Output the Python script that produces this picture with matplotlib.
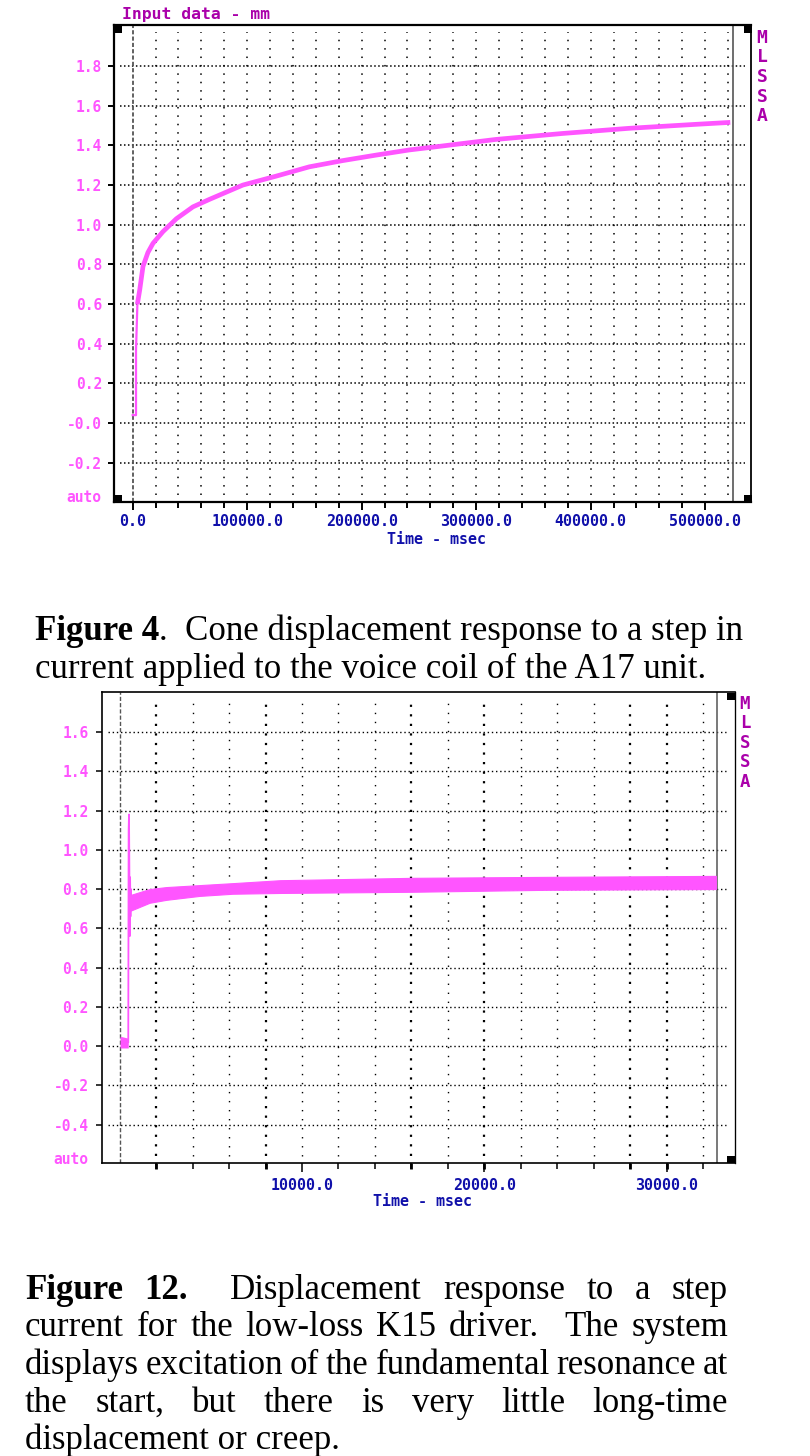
import matplotlib
matplotlib.use("Agg")
import matplotlib.pyplot as plt
from matplotlib.patches import Rectangle
from matplotlib.lines import TICKDOWN
import matplotlib.transforms as mtransforms

W, H = 810, 1456

PINK = "#ff55ff"
PURPLE = "#aa00aa"
BLUE = "#1010aa"
GRAY = "#555555"
MONO = "DejaVu Sans Mono"
SERIF = "Liberation Serif"

#### DATA ####
# Figure 4, A17 unit (time in msec, displacement in mm)
a17_step_time = [0, 2900, 2900, 4100]
a17_step_disp = [0.04, 0.04, 0.37, 0.60]
a17_time = [4100, 6100, 9000, 13300, 17700, 26400, 38100, 52600, 67100, 96200,
            125300, 154300, 183100, 212500, 241500, 264800, 317100, 375200,
            433300, 491400, 521900]
a17_disp = [0.60, 0.67, 0.79, 0.86, 0.906, 0.965, 1.03, 1.09, 1.128, 1.20,
            1.245, 1.292, 1.323, 1.351, 1.377, 1.393, 1.43, 1.46,
            1.486, 1.506, 1.516]
a17_xticks = [0, 100000, 200000, 300000, 400000, 500000]
a17_xlabels = ["0.0", "100000.0", "200000.0", "300000.0", "400000.0", "500000.0"]
a17_yticks = [-0.2, 0.0, 0.2, 0.4, 0.6, 0.8, 1.0, 1.2, 1.4, 1.6, 1.8]
a17_ylabels = ["-0.2", "-0.0", "0.2", "0.4", "0.6", "0.8", "1.0", "1.2",
               "1.4", "1.6", "1.8"]

# Figure 12, K15 driver
k15_pre_time = [20, 470]
k15_pre_low = [-0.01, -0.01]
k15_pre_high = [0.05, 0.04]
k15_ring_time = [470, 490, 510, 530, 550, 570, 590, 610, 640]
k15_ring_disp = [0.02, 1.10, 1.18, 0.90, 0.56, 0.86, 0.66, 0.80, 0.70]
k15_time = [600, 1640, 2560, 4380, 6200, 8800, 16000, 23400, 32700]
k15_low = [0.69, 0.73, 0.745, 0.765, 0.776, 0.78, 0.786, 0.796, 0.80]
k15_high = [0.77, 0.80, 0.81, 0.82, 0.83, 0.845, 0.857, 0.862, 0.867]
k15_xticks = [10000, 20000, 30000]
k15_xlabels = ["10000.0", "20000.0", "30000.0"]
k15_yticks = [-0.4, -0.2, 0.0, 0.2, 0.4, 0.6, 0.8, 1.0, 1.2, 1.4, 1.6]
k15_ylabels = ["-0.4", "-0.2", "0.0", "0.2", "0.4", "0.6", "0.8", "1.0",
               "1.2", "1.4", "1.6"]
k15_heavy = [2000, 8000, 16000, 20000, 28000, 30000]

caption4 = ["Figure 4", ".  Cone displacement response to a step in",
            "current applied to the voice coil of the A17 unit."]
# words: (text, bold, gap weight before the next word)
caption12 = [
    [("Figure", 1, 1), ("12.", 1, 2), ("Displacement", 0, 1), ("response", 0, 1),
     ("to", 0, 1), ("a", 0, 1), ("step", 0, 0)],
    [("current", 0, 1), ("for", 0, 1), ("the", 0, 1), ("low-loss", 0, 1),
     ("K15", 0, 1), ("driver.", 0, 2), ("The", 0, 1), ("system", 0, 0)],
    [("displays", 0, 1), ("excitation", 0, 1), ("of", 0, 1), ("the", 0, 1),
     ("fundamental", 0, 1), ("resonance", 0, 1), ("at", 0, 0)],
    [("the", 0, 1), ("start,", 0, 1), ("but", 0, 1), ("there", 0, 1), ("is", 0, 1),
     ("very", 0, 1), ("little", 0, 1), ("long-time", 0, 0)],
]
caption12_last = "displacement or creep."


def fx(x):
    return x / W


def fy(y):
    return 1 - y / H


def square(fig, x, y, w=8, h=7):
    fig.add_artist(Rectangle((fx(x), fy(y + h)), w / W, h / H,
                             transform=fig.transFigure, color="black", lw=0))


def mlssa_axes(fig, left, top, right, bottom, xlim, ylim, lw):
    ax = fig.add_axes([fx(left), fy(bottom), (right - left) / W, (bottom - top) / H])
    ax.set_xlim(xlim)
    ax.set_ylim(ylim)
    for s in ax.spines.values():
        s.set_linewidth(lw)
        s.set_color("black")
    ax.spines["right"].set_linewidth(lw * 0.8)
    return ax


def style_ticks(ax, xt, xl, yt, yl, ypad, xpad, tw, major_len, minor_len):
    ax.set_yticks(yt)
    ax.set_yticklabels(yl, family=MONO, weight="bold", fontsize=10.5, color=PINK)
    ax.set_xticks(xt)
    ax.set_xticklabels(xl, family=MONO, weight="bold", fontsize=10.8, color=BLUE)
    ax.tick_params(axis="y", direction="out", length=4.3, width=tw, pad=ypad)
    ax.tick_params(axis="x", which="major", direction="out", length=major_len,
                   width=tw, pad=xpad)
    ax.tick_params(axis="x", which="minor", direction="out", length=minor_len,
                   width=tw)


fig = plt.figure(figsize=(W / 100, H / 100), dpi=100, facecolor="white")

#### FIGURE 4 CHART ####
ax1 = mlssa_axes(fig, 114, 25, 751, 502, (-16330, 540000), (-0.398, 2.007), 1.6)
style_ticks(ax1, a17_xticks, a17_xlabels, a17_yticks, a17_ylabels, 4.3, 2.5,
            1.4, 6, 4)
ax1.set_xticks(list(range(0, 520000, 20000)), minor=True)
for yv in a17_yticks:
    ax1.axhline(yv, xmin=0.01, xmax=0.99, color="black", lw=1.1,
                ls=(0, (1, 1.6)), zorder=1)
for t in range(20000, 540000, 20000):
    ax1.axvline(t, ymin=0.015, ymax=0.985, color="black", lw=1.1,
                ls=(0, (1, 4.5)), zorder=1)
ax1.axvline(0, color=GRAY, lw=1.3, ls=(0, (2.3, 1.2)), zorder=2)
ax1.axvline(524300, color=GRAY, lw=1.2, zorder=2)
ax1.plot(a17_step_time, a17_step_disp, color=PINK, lw=1.6, zorder=3)
ax1.plot(a17_time, a17_disp, color=PINK, lw=3.4, zorder=3,
         solid_capstyle="butt")

fig.text(fx(122), fy(15), "Input data - mm", family=MONO, weight="bold",
         fontsize=11.8, color=PURPLE, ha="left", va="center")
fig.text(fx(101), fy(497), "auto", family=MONO, weight="bold", fontsize=10.5,
         color=PINK, ha="right", va="center")
fig.text(fx(436), fy(540), "Time - msec", family=MONO, weight="bold",
         fontsize=10.8, color=BLUE, ha="center", va="center")
for i, ch in enumerate("MLSSA"):
    fig.text(fx(762), fy(38 + 19.5 * i), ch, family=MONO, weight="bold",
             fontsize=13, color=PURPLE, ha="center", va="center")
square(fig, 114, 26)
square(fig, 114, 495)
square(fig, 744, 26)
square(fig, 744, 495)

#### FIGURE 12 CHART ####
ax2 = mlssa_axes(fig, 102, 692, 735, 1163, (-971, 33750), (-0.596, 1.804), 1.2)
style_ticks(ax2, k15_xticks, k15_xlabels, k15_yticks, k15_ylabels, 5.3, 4,
            1.1, 6.5, 4.3)
ax2.set_xticks(list(range(2000, 33000, 2000)), minor=True)
blend = mtransforms.blended_transform_factory(ax2.transData, ax2.transAxes)
ax2.plot(k15_heavy, [0] * len(k15_heavy), ls="none", marker=TICKDOWN,
         markersize=4.3, mew=2.0, color="black", transform=blend, clip_on=False)
for yv in k15_yticks:
    ax2.axhline(yv, xmin=0.01, xmax=0.985, color="black", lw=1.0,
                ls=(0, (1, 2)), zorder=1)
for t in range(2000, 34000, 2000):
    heavy = t in k15_heavy
    ax2.axvline(t, ymin=0.015, ymax=0.985, color="black",
                lw=1.6 if heavy else 1.0,
                ls=(0, (1, 3.3)) if heavy else (0, (1, 5.5)), zorder=1)
ax2.axvline(0, color=GRAY, lw=1.0, ls=(0, (3, 1.5)), zorder=2)
ax2.axvline(32765, color=GRAY, lw=1.1, zorder=2)
ax2.fill_between(k15_pre_time, k15_pre_low, k15_pre_high, color=PINK, lw=0,
                 zorder=3)
ax2.plot(k15_ring_time, k15_ring_disp, color=PINK, lw=1.3, zorder=3)
ax2.fill_between(k15_time, k15_low, k15_high, color=PINK, lw=0.8,
                 edgecolor=PINK, zorder=3)

fig.text(fx(88), fy(1160), "auto", family=MONO, weight="bold", fontsize=10.5,
         color=PINK, ha="right", va="center")
fig.text(fx(422), fy(1201), "Time - msec", family=MONO, weight="bold",
         fontsize=10.8, color=BLUE, ha="center", va="center")
for i, ch in enumerate("MLSSA"):
    fig.text(fx(745), fy(704 + 19.4 * i), ch, family=MONO, weight="bold",
             fontsize=12.5, color=PURPLE, ha="center", va="center")
square(fig, 727, 693)
square(fig, 727, 1156)

#### CAPTIONS ####
renderer = fig.canvas.get_renderer()


def measure(s, bold, size):
    t = fig.text(0, 0, s, family=SERIF, fontsize=size,
                 weight="bold" if bold else "normal")
    w = t.get_window_extent(renderer=renderer).width
    t.remove()
    return w


ref = 20.0
w_line = measure(caption4[0], 1, ref) + measure(caption4[1], 0, ref)
fs = ref * 710 / w_line

w_fig = measure(caption4[0], 1, fs)
fig.text(fx(35), fy(640), caption4[0], family=SERIF, fontsize=fs, weight="bold",
         va="baseline", ha="left")
fig.text(fx(35 + w_fig), fy(640), caption4[1], family=SERIF, fontsize=fs,
         va="baseline", ha="left")
fig.text(fx(35), fy(678), caption4[2], family=SERIF, fontsize=fs,
         va="baseline", ha="left")

left, right = 25, 728
y0, step = 1299, 37.5
for k, words in enumerate(caption12):
    y = y0 + step * k
    widths = [measure(w, b, fs) for w, b, g in words]
    gap = (right - left - sum(widths)) / sum(g for w, b, g in words)
    x = left
    for (w, b, g), wd in zip(words, widths):
        fig.text(fx(x), fy(y), w, family=SERIF, fontsize=fs,
                 weight="bold" if b else "normal", va="baseline", ha="left")
        x += wd + gap * g
fig.text(fx(left), fy(y0 + step * 4), caption12_last, family=SERIF,
         fontsize=fs, va="baseline", ha="left")

fig.savefig("out.png", dpi=100, facecolor="white")
